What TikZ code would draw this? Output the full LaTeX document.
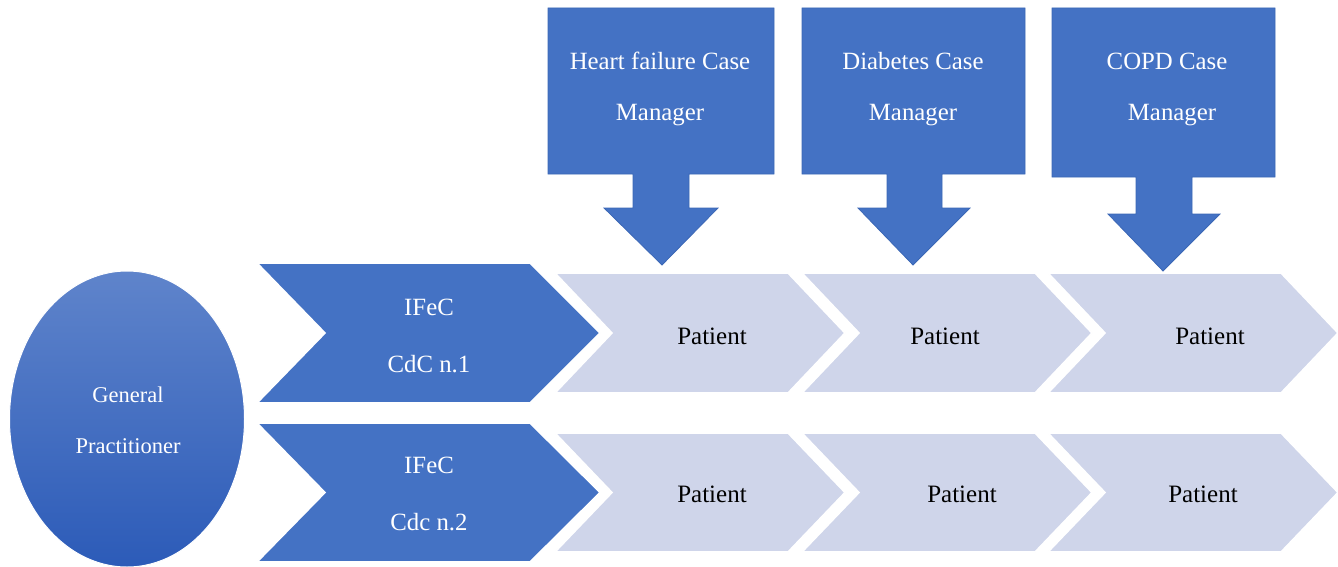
\documentclass[tikz,border=0pt]{standalone}
\usepackage{fontspec}
\setmainfont{Liberation Serif}
\usetikzlibrary{shapes.geometric}
\definecolor{dblue}{HTML}{4472C4}
\definecolor{lblue}{HTML}{CFD5EA}
\definecolor{eltop}{HTML}{5F84CB}
\definecolor{elbot}{HTML}{2C5BB8}
\definecolor{edgeblue}{HTML}{3B67B5}
\begin{document}
\begin{tikzpicture}[x=1pt,y=-1pt,
  dshape/.style={fill=dblue,draw=white,line width=1.6pt,line join=miter},
  lshape/.style={fill=lblue,draw=white,line width=1.6pt,line join=miter},
  callout/.style={fill=dblue,draw=edgeblue,line width=0.8pt},
  gtxt/.style={text=white,align=center,inner sep=0pt,font=\fontsize{22.5}{51}\selectfont},
  wtxt/.style={text=white,align=center,inner sep=0pt,font=\fontsize{24.8}{51}\selectfont},
  ctxt/.style={text=white,align=center,inner sep=0pt,font=\fontsize{24.8}{57}\selectfont},
  btxt/.style={text=black,inner sep=0pt,font=\fontsize{25}{28}\selectfont}]
\useasboundingbox (0,0) rectangle (1338,567);

% patient chevrons
\foreach \xo/\nm in {555/a,802/b,1048/c}{
  \draw[lshape] (\xo,273) -- (\xo+233,273) -- (\xo+290,333) -- (\xo+233,393) -- (\xo,393) -- (\xo+57,333) -- cycle;
  \draw[lshape] (\xo,433) -- (\xo+233,433) -- (\xo+290,492.5) -- (\xo+233,552) -- (\xo,552) -- (\xo+57,492.5) -- cycle;
}

% IFeC chevrons
\draw[dshape] (257,263) -- (530,263) -- (600,333) -- (530,403) -- (257,403) -- (325,333) -- cycle;
\draw[dshape] (257,423) -- (530,423) -- (600,492.5) -- (530,562) -- (257,562) -- (325,492.5) -- cycle;

% general practitioner
\node[ellipse,minimum width=235pt,minimum height=296pt,inner sep=0pt,
      top color=eltop,bottom color=elbot,draw=white,line width=1pt] (gpshape) at (127,419) {};
\node[gtxt] (gp) at (128,420) {General\\Practitioner};

% callouts
\draw[callout] (548,8) -- (774,8) -- (774,174) -- (689,174) -- (689,208) -- (718,208) -- (662,265) -- (604,208) -- (633,208) -- (633,174) -- (548,174) -- cycle;
\draw[callout] (802,8) -- (1025,8) -- (1025,174) -- (942,174) -- (942,208) -- (970,208) -- (913,265) -- (858,208) -- (887,208) -- (887,174) -- (802,174) -- cycle;
\draw[callout] (1052,8) -- (1275,8) -- (1275,177) -- (1192,177) -- (1192,214) -- (1220,214) -- (1163,271) -- (1108,214) -- (1136,214) -- (1136,177) -- (1052,177) -- cycle;

\node[wtxt] (hf) at (660,89) {Heart failure Case\\Manager};
\node[wtxt] (db) at (913,89) {Diabetes Case\\Manager};
\node[wtxt] (copd) at (1167,89) {COPD Case\\\hspace*{10pt}Manager};

% IFeC texts
\node[ctxt] (ifec1) at (429,336) {IFeC\\CdC n.1};
\node[ctxt] (ifec2) at (429,494) {IFeC\\Cdc n.2};

% patient texts
\node[btxt] (p1) at (712,336) {Patient};
\node[btxt] (p2) at (945,336) {Patient};
\node[btxt] (p3) at (1210,336) {Patient};
\node[btxt] (p4) at (712,494) {Patient};
\node[btxt] (p5) at (962,494) {Patient};
\node[btxt] (p6) at (1203,494) {Patient};
\end{tikzpicture}
\end{document}
